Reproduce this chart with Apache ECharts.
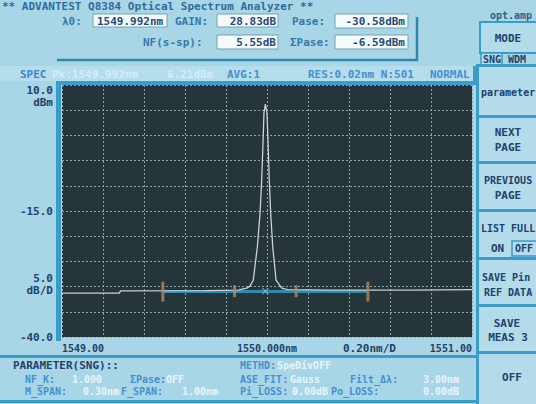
<!DOCTYPE html>
<html>
<head>
<meta charset="utf-8">
<title>Q8384 Optical Spectrum Analyzer</title>
<script src="https://cdn.jsdelivr.net/npm/echarts@6/dist/echarts.min.js"></script>
<style>
  html, body { margin: 0; padding: 0; background: #a9d6e6; }
  #chart { width: 536px; height: 404px; }
</style>
</head>
<body>
<div id="chart"></div>
<script>
// 光谱迹线 (波长 nm / 电平 dBm)，从屏幕上读出
const traceNm = [1549.00, 1549.28, 1549.285, 1549.70, 1549.86, 1549.901, 1549.917, 1549.933, 1549.953,
  1549.966, 1549.974, 1549.980, 1549.985, 1549.992, 1550.000, 1550.006, 1550.011, 1550.018,
  1550.028, 1550.044, 1550.072, 1550.10, 1550.30, 1550.70, 1551.00]
const traceDbm = [-31.3, -31.3, -30.85, -30.8, -30.7, -30.3, -29.9, -28.7, -22.1,
  -15.5, -8.85, -2.2, 4.4, 6.21, 4.4, -2.2, -8.85, -15.5,
  -22.1, -28.7, -30.3, -30.6, -30.7, -30.7, -30.6]

// ASE 拟合基线
const fitNm = [1549.492, 1550.492]
const fitDbm = [-30.95, -30.95]

// F_SPAN / M_SPAN 标记
const fSpanNm = [1549.492, 1550.492]
const fSpanDbm = [-31.0, -31.0]
const mSpanNm = [1549.842, 1550.142]
const mSpanDbm = [-30.9, -30.9]
const centerNm = [1549.992]
const centerDbm = [-30.9]

// 刻度标签
const xTickLabels = { '1549': '1549.00', '1550': '1550.000nm', '1551': '1551.00' }
const yTickLabels = { '10': '10.0', '-15': '-15.0', '-40': '-40.0' }

const zip = (a, b) => a.map((v, i) => [v, b[i]])

const MONO = '"DejaVu Sans Mono", "Liberation Mono", monospace'
const DARK = '#22416c'
const BLUE = '#4590d0'
const LIGHT = '#e6f5fb'
const LINE = '#3a9cc8'
const FACE = '#b3dbe9'

// 文字
const txt = (x, y, s, color, align, size) => ({
  type: 'text', x: x, y: y, z: 20,
  style: {
    text: s, fill: color, font: 'bold ' + (size || 11) + 'px ' + MONO,
    align: align || 'left', textAlign: align || 'left',
    verticalAlign: 'middle', textVerticalAlign: 'middle'
  }
})
// 底部参数栏用小一号字
const ptxt = (x, y, s, color) => txt(x, y, s, color, 'left', 10)
// 矩形
const box = (x, y, w, h, fill, stroke, lw) => ({
  type: 'rect', z: 5,
  shape: { x: x, y: y, width: w, height: h },
  style: { fill: fill || 'none', stroke: stroke || 'none', lineWidth: lw || 0 }
})

const graphics = [
  // 标题
  txt(2, 6, '** ADVANTEST Q8384 Optical Spectrum Analyzer **', '#2f6c9e'),
  { type: 'polyline', z: 5, shape: { points: [[57, 60], [417, 60], [417, 17]] },
    style: { stroke: '#2f87ad', lineWidth: 2.5, fill: 'none' } },

  // 测量结果
  txt(62, 21, 'λ0:', '#3778a8'),
  box(93, 14, 74, 13, '#f5fbfd', '#7d9eac', 1),
  txt(97, 21, '1549.992nm', '#274a78'),
  txt(175, 21, 'GAIN:', '#3778a8'),
  box(217, 14, 61, 13, '#f5fbfd', '#7d9eac', 1),
  txt(276, 21, '28.83dB', '#274a78', 'right'),
  txt(292, 21, 'Pase:', '#3778a8'),
  box(335, 14, 73, 14, '#f5fbfd', '#7d9eac', 1),
  txt(405, 21, '-30.58dBm', '#274a78', 'right'),
  txt(143, 42, 'NF(s-sp):', '#3778a8'),
  box(217, 35, 61, 14, '#f5fbfd', '#7d9eac', 1),
  txt(276, 42, '5.55dB', '#274a78', 'right'),
  txt(290, 42, 'ΣPase:', '#3778a8'),
  box(335, 35, 73, 14, '#f5fbfd', '#7d9eac', 1),
  txt(405, 42, '-6.59dBm', '#274a78', 'right'),

  // 右上 MODE
  txt(490, 15, 'opt.amp', '#2c5f8f', 'left', 10),
  box(480, 22, 58, 31, FACE, LINE, 2),
  txt(508, 38, 'MODE', DARK, 'center'),
  box(481, 53, 21, 12, FACE, LINE, 1.5),
  txt(483, 59, 'SNG', DARK, 'left', 10),
  txt(508, 59, 'WDM', DARK, 'left', 10),

  // SPEC 状态栏
  box(0, 66, 476, 15, '#b5ddec'),
  txt(20, 74, 'SPEC', '#3a86c8'),
  txt(52, 74, 'Pk:1549.992nm', '#d5eef8'),
  txt(167, 74, '6.21dBm', '#d5eef8'),
  txt(227, 74, 'AVG:1', BLUE),
  txt(308, 74, 'RES:0.02nm N:501', BLUE),
  txt(430, 74, 'NORMAL', BLUE),

  // 图框
  box(56, 81, 5, 260, LINE),
  box(56, 81, 420, 4, LINE),
  box(473, 66, 3, 19, LINE),

  // 坐标附加文字
  txt(53, 102, 'dBm', DARK, 'right'),
  txt(53, 278, '5.0', DARK, 'right'),
  txt(53, 290, 'dB/D', DARK, 'right'),
  txt(343, 348, '0.20nm/D', DARK),

  // 底部参数栏
  box(0, 355, 477, 3, LINE),
  box(0, 400, 477, 3, LINE),
  txt(13, 365, 'PARAMETER(SNG)::', DARK),
  ptxt(25, 379, 'NF_K:', BLUE), ptxt(72, 379, '1.000', LIGHT),
  ptxt(130, 379, 'ΣPase:', BLUE), ptxt(166, 379, 'OFF', LIGHT),
  ptxt(25, 391, 'M_SPAN:', BLUE), ptxt(83, 391, '0.30nm', LIGHT),
  ptxt(121, 391, 'F_SPAN:', BLUE), ptxt(182, 391, '1.00nm', LIGHT),
  ptxt(240, 365, 'METHD:', BLUE), ptxt(277, 365, 'SpeDivOFF', LIGHT),
  ptxt(240, 379, 'ASE_FIT:', BLUE), ptxt(290, 379, 'Gauss', LIGHT),
  ptxt(350, 379, 'Filt_Δλ:', BLUE), ptxt(423, 379, '3.00nm', LIGHT),
  ptxt(240, 391, 'Pi_LOSS:', BLUE), ptxt(292, 391, '0.00dB', LIGHT),
  ptxt(331, 391, 'Po_LOSS:', BLUE), ptxt(423, 391, '0.00dB', LIGHT),

  // 软键
  box(479, 66, 57, 338, FACE),
  box(476, 64, 3, 340, LINE),
  box(476, 64, 60, 3, LINE),
  box(476, 115, 60, 3, LINE),
  box(476, 161, 60, 3, LINE),
  box(476, 209, 60, 3, LINE),
  box(476, 257, 60, 3, LINE),
  box(476, 304, 60, 3, LINE),
  box(476, 351, 60, 3, LINE),
  txt(481, 92, 'parameter', DARK, 'left', 10),
  txt(508, 132, 'NEXT', DARK, 'center'),
  txt(508, 147, 'PAGE', DARK, 'center'),
  txt(484, 180, 'PREVIOUS', DARK, 'left', 10),
  txt(508, 195, 'PAGE', DARK, 'center'),
  txt(481, 228, 'LIST FULL', DARK, 'left', 10),
  txt(491, 248, 'ON', DARK),
  box(512, 241, 26, 15, null, LINE, 1.5),
  txt(515, 248, 'OFF', DARK, 'left', 10),
  txt(482, 277, 'SAVE Pin', DARK, 'left', 10),
  txt(484, 292, 'REF DATA', DARK, 'left', 10),
  txt(507, 323, 'SAVE', DARK, 'center'),
  txt(508, 337, 'MEAS 3', DARK, 'center'),
  txt(512, 377, 'OFF', DARK, 'center')
]

const dotted = { color: '#8fa2a8', width: 1, type: [2, 2] }

const option = {
  animation: false,
  backgroundColor: '#a9d6e6',
  grid: {
    left: 62, top: 85, width: 410, height: 252,
    show: true, backgroundColor: '#26353a', borderWidth: 0
  },
  xAxis: {
    type: 'value', min: 1549, max: 1551, interval: 0.2,
    axisLine: { show: false }, axisTick: { show: false },
    splitLine: { show: true, lineStyle: dotted },
    axisLabel: {
      margin: 6, color: DARK, fontFamily: MONO, fontWeight: 'bold', fontSize: 10,
      alignMinLabel: 'left', alignMaxLabel: 'right',
      formatter: v => xTickLabels[String(Math.round(v * 1000) / 1000)] || ''
    }
  },
  yAxis: {
    type: 'value', min: -40, max: 10, interval: 5,
    axisLine: { show: false }, axisTick: { show: false },
    splitLine: { show: true, lineStyle: dotted },
    axisLabel: {
      margin: 9, color: DARK, fontFamily: MONO, fontWeight: 'bold', fontSize: 11,
      verticalAlignMaxLabel: 'top',
      formatter: v => yTickLabels[String(v)] || ''
    }
  },
  series: [
    {
      name: 'ASE fit', type: 'line', z: 2, symbol: 'none',
      data: zip(fitNm, fitDbm),
      lineStyle: { color: '#2a8db0', width: 3 }
    },
    {
      name: 'spectrum', type: 'line', z: 3, symbol: 'none',
      data: zip(traceNm, traceDbm),
      lineStyle: { color: '#c9d2d5', width: 1.3 }
    },
    {
      name: 'F_SPAN', type: 'scatter', z: 4, symbol: 'rect', symbolSize: [3, 20],
      data: zip(fSpanNm, fSpanDbm),
      itemStyle: { color: '#b08a62' }
    },
    {
      name: 'M_SPAN', type: 'scatter', z: 4, symbol: 'rect', symbolSize: [3, 12],
      data: zip(mSpanNm, mSpanDbm),
      itemStyle: { color: '#b08a62' }
    },
    {
      name: 'center', type: 'scatter', z: 4,
      symbol: 'path://M0,0L10,10M10,0L0,10', symbolSize: 6,
      data: zip(centerNm, centerDbm),
      itemStyle: { color: 'none', borderColor: '#9fb6be', borderWidth: 1.2 }
    }
  ],
  graphic: graphics
}

const chart = echarts.init(document.getElementById('chart'), null, { renderer: 'svg' })
chart.setOption(option)
</script>
</body>
</html>
